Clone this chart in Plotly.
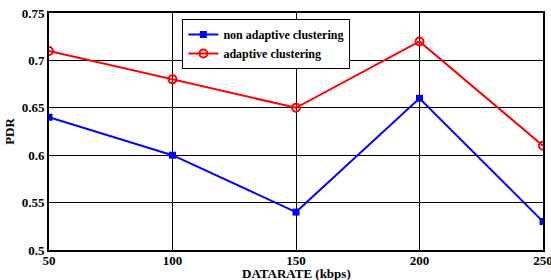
import plotly.graph_objects as go

datarate = [50, 100, 150, 200, 250]
non_adaptive = [0.64, 0.60, 0.54, 0.66, 0.53]
adaptive = [0.71, 0.68, 0.65, 0.72, 0.61]

font_fam = "Liberation Serif"

fig = go.Figure()
fig.add_trace(go.Scatter(
    x=datarate, y=non_adaptive, mode="lines+markers",
    name="non adaptive clustering",
    line=dict(color="#0000ff", width=2),
    marker=dict(symbol="square", size=7, color="#0000ff"),
))
fig.add_trace(go.Scatter(
    x=datarate, y=adaptive, mode="lines+markers",
    name="adaptive clustering",
    line=dict(color="#ff0000", width=2),
    marker=dict(symbol="circle-open", size=8, color="#ff0000", line=dict(width=2)),
))

fig.update_layout(
    width=551, height=280,
    margin=dict(l=49, r=8, t=13, b=30),
    paper_bgcolor="white", plot_bgcolor="white",
    font=dict(family=font_fam, size=13, color="black"),
    showlegend=True,
    legend=dict(
        x=0.27, y=0.975, xanchor="left", yanchor="top",
        bgcolor="white", bordercolor="black", borderwidth=1,
        font=dict(family=font_fam, size=12, color="black", weight="bold"),
        tracegroupgap=0, itemwidth=30,
    ),
    annotations=[dict(
        text="DATARATE (kbps)", xref="paper", yref="paper",
        x=0.5, y=-0.062, xanchor="center", yanchor="top", showarrow=False,
        borderpad=0,
        font=dict(family=font_fam, size=13, weight="bold", color="black"),
    )],
)
fig.update_xaxes(
    range=[50, 250], tickvals=datarate, automargin=False,
    showgrid=True, gridcolor="black", gridwidth=1,
    showline=True, linecolor="black", linewidth=2, mirror=True,
    ticks="inside", ticklen=4, tickcolor="black",
    zeroline=False, ticklabeloverflow="allow", ticklabelstandoff=-3,
    tickfont=dict(family=font_fam, size=13, weight="bold"),
)
fig.update_yaxes(
    range=[0.5, 0.75], tickvals=[0.5, 0.55, 0.6, 0.65, 0.7, 0.75],
    ticktext=["0.5", "0.55", "0.6", "0.65", "0.7", "0.75"], automargin=False,
    showgrid=True, gridcolor="black", gridwidth=1,
    showline=True, linecolor="black", linewidth=2, mirror=True,
    ticks="inside", ticklen=4, tickcolor="black",
    zeroline=False, ticklabeloverflow="allow",
    tickfont=dict(family=font_fam, size=13, weight="bold"),
    title=dict(text="PDR", standoff=4,
               font=dict(family=font_fam, size=13, weight="bold")),
)

fig.write_html("out.html", config={"displayModeBar": False},
               post_script="document.body.style.margin='0';document.body.style.padding='0';")
